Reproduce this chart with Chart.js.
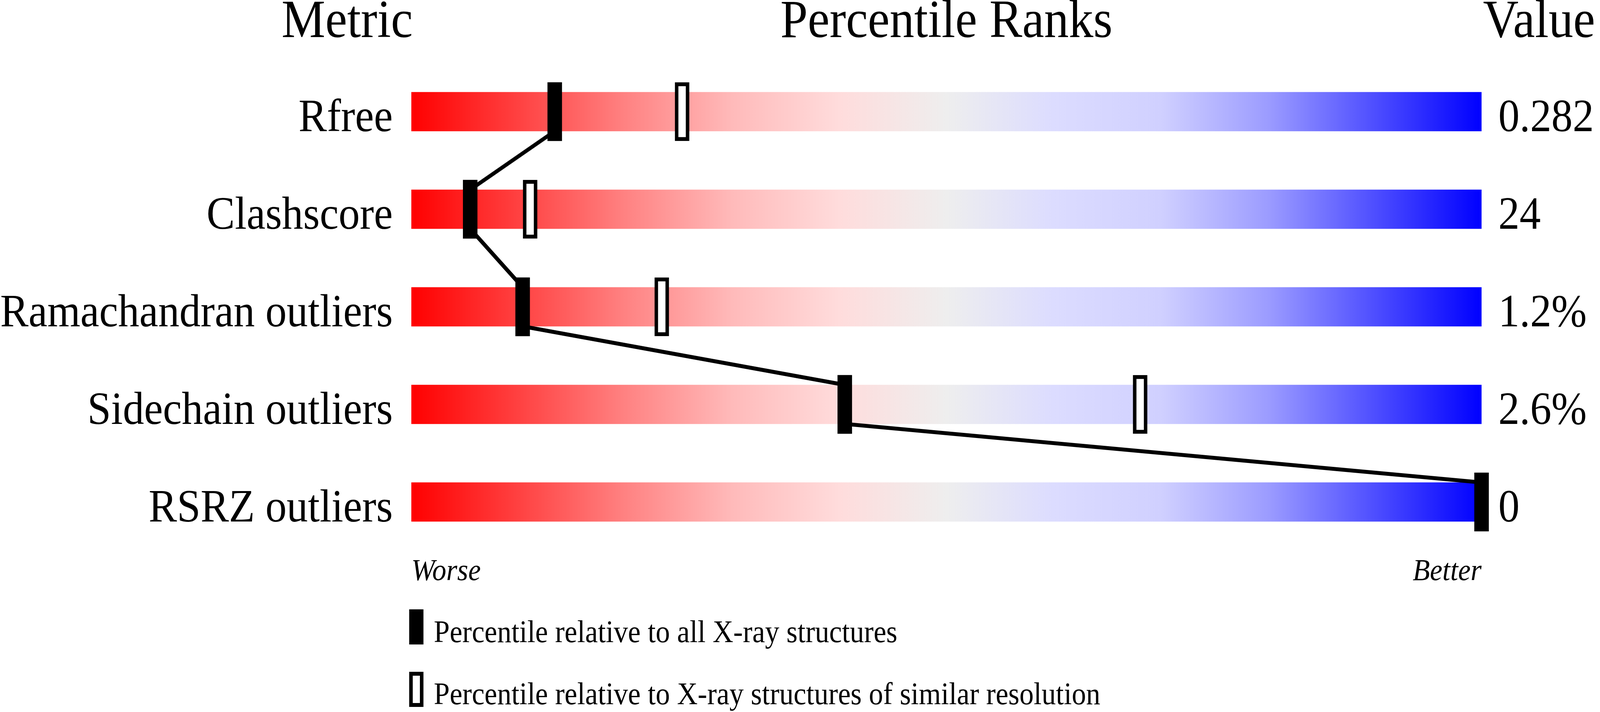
<!DOCTYPE html>
<html>
<head>
<meta charset="utf-8">
<title>Percentile Ranks</title>
<script src="https://cdn.jsdelivr.net/npm/chart.js@4.4.1/dist/chart.umd.min.js"></script>
<style>
  html, body { margin: 0; padding: 0; background: #fff; overflow: hidden; }
  #wrap { position: relative; width: 100vw; height: 100vh; }
</style>
</head>
<body>
<div id="wrap"><canvas id="chart"></canvas></div>
<script>
'use strict';
// data
const metrics = ['Rfree', 'Clashscore', 'Ramachandran outliers', 'Sidechain outliers', 'RSRZ outliers'];
const valueLabels = ['0.282', '24', '1.2%', '2.6%', '0'];
const pctAll = [13.4, 5.5, 10.4, 40.5, 100];
const pctSimilar = [25.3, 11.1, 23.4, 68.1, null];
const headers = ['Metric', 'Percentile Ranks', 'Value'];
const scaleEnds = ['Worse', 'Better'];
const legendLabels = [
    'Percentile relative to all X-ray structures',
    'Percentile relative to X-ray structures of similar resolution'
];

(function(){
    const SERIF = '"Liberation Serif", "Times New Roman", serif';
    // layout is designed on a 4485x1824 sheet and stretched to the window
    const REF_W = 4485, REF_H = 1824;
    const sx = window.innerWidth / REF_W, sy = window.innerHeight / REF_H;
    const BAR_H = 100 * sy, MARK_H = 150 * sy, MARK_HALF = 0.667; // px, px, percentile units

    let gradCache = null;
    function barGradient(c) {
        const chart = c.chart, area = chart.chartArea;
        if (!area) return '#eeeeee';
        if (gradCache && gradCache.l === area.left && gradCache.r === area.right) return gradCache.g;
        const g = chart.ctx.createLinearGradient(area.left, 0, area.right, 0);
        g.addColorStop(0, '#ff0000');
        g.addColorStop(0.2, '#ff8282');
        g.addColorStop(0.3, '#ffbaba');
        g.addColorStop(0.4, '#ffdcdc');
        g.addColorStop(0.5, '#eeeeee');
        g.addColorStop(0.6, '#dcdcff');
        g.addColorStop(0.7, '#d0d0ff');
        g.addColorStop(0.8, '#9c9cff');
        g.addColorStop(1, '#0000ff');
        gradCache = { l: area.left, r: area.right, g };
        return g;
    }

    const rows = metrics.map((m, i) => i);
    const trackData = rows.map(i => ({ y: i, x: [0, 100] }));
    const allData = rows.map(i => ({ y: i, x: [pctAll[i] - MARK_HALF, pctAll[i] + MARK_HALF] }));
    const simData = rows.filter(i => pctSimilar[i] !== null)
        .map(i => ({ y: i, x: [pctSimilar[i] - MARK_HALF, pctSimilar[i] + MARK_HALF] }));

    // zig-zag: bottom of one bar to top of the next
    const linkData = [];
    for (let i = 0; i < pctAll.length - 1; i++) {
        linkData.push({ x: pctAll[i], y: i + 0.2 });
        linkData.push({ x: pctAll[i + 1], y: i + 1 - 0.2 });
    }

    // text squeezed horizontally the same way the sheet is
    function txt(ctx, s, x, y, size, align, style) {
        ctx.save();
        ctx.font = (style ? style + ' ' : '') + (size * sy) + 'px ' + SERIF;
        ctx.textAlign = align;
        ctx.translate(x, y);
        ctx.scale(sx / sy, 1);
        ctx.fillText(s, 0, 0);
        ctx.restore();
    }

    const textPlugin = {
        id: 'sliderText',
        afterDraw(chart) {
            const { ctx } = chart;
            const xs = chart.scales.x, ys = chart.scales.y;
            const left = xs.getPixelForValue(0), right = xs.getPixelForValue(100);
            ctx.save();
            ctx.fillStyle = '#000';
            ctx.textBaseline = 'alphabetic';

            const hy = ys.getPixelForValue(-0.764);
            txt(ctx, headers[0], left + 4 * sx, hy, 138, 'right');
            txt(ctx, headers[1], (left + right) / 2, hy, 138, 'center');
            txt(ctx, headers[2], right + 4 * sx, hy, 138, 'left');

            metrics.forEach((m, i) => {
                const by = ys.getPixelForValue(i) + BAR_H / 2;
                txt(ctx, m, left - 52 * sx, by, 119, 'right');
                txt(ctx, valueLabels[i], right + 47 * sx, by, 119, 'left');
            });

            const wy = ys.getPixelForValue(4.8);
            txt(ctx, scaleEnds[0], left, wy, 79, 'left', 'italic');
            txt(ctx, scaleEnds[1], right, wy, 79, 'right', 'italic');

            // legend keys
            const lx = left - 6 * sx, lw = 40 * sx, lh = 90 * sy, bw = 10 * sx, bh = 10 * sy;
            const c1 = ys.getPixelForValue(5.28), c2 = ys.getPixelForValue(5.92);
            ctx.fillRect(lx, c1 - lh / 2, lw, lh);
            ctx.fillRect(lx, c2 - lh / 2, lw, lh);
            ctx.fillStyle = '#fff';
            ctx.fillRect(lx + bw, c2 - lh / 2 + bh, lw - 2 * bw, lh - 2 * bh);
            ctx.fillStyle = '#000';
            txt(ctx, legendLabels[0], left + 63 * sx, ys.getPixelForValue(5.436), 80, 'left');
            txt(ctx, legendLabels[1], left + 63 * sx, ys.getPixelForValue(6.072), 80, 'left');
            ctx.restore();
        }
    };

    new Chart(document.getElementById('chart'), {
        type: 'bar',
        data: {
            datasets: [
                {
                    label: 'track', data: trackData, order: 4,
                    backgroundColor: barGradient, borderWidth: 0,
                    barThickness: BAR_H, grouped: false
                },
                {
                    type: 'line', label: 'link', data: linkData, order: 3,
                    borderColor: '#000', borderWidth: 10 * sy, pointRadius: 0,
                    tension: 0, fill: false, clip: false
                },
                {
                    label: 'all', data: allData, order: 2,
                    backgroundColor: '#000', borderWidth: 0,
                    barThickness: MARK_H, grouped: false, clip: false
                },
                {
                    label: 'similar', data: simData, order: 1,
                    backgroundColor: '#fff', borderColor: '#000',
                    borderWidth: { left: 10 * sx, right: 10 * sx, top: 10 * sy, bottom: 10 * sy },
                    borderSkipped: false, barThickness: MARK_H, grouped: false, clip: false
                }
            ]
        },
        options: {
            indexAxis: 'y',
            responsive: true,
            maintainAspectRatio: false,
            animation: false,
            events: [],
            layout: { padding: { left: 1153 * sx, right: 332 * sx, top: 0, bottom: 0 } },
            scales: {
                x: { type: 'linear', min: 0, max: 100, bounds: 'data', offset: false, display: false },
                y: { type: 'linear', min: -1.144, max: 6.152, bounds: 'data', offset: false, reverse: true, display: false }
            },
            plugins: { legend: { display: false }, tooltip: { enabled: false }, title: { display: false } }
        },
        plugins: [textPlugin]
    });
})();
</script>
</body>
</html>
